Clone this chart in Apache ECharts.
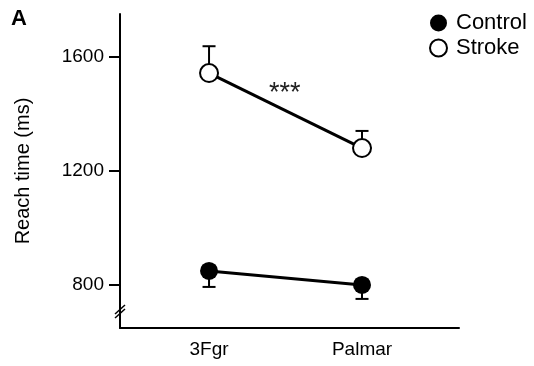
<!DOCTYPE html>
<html>
<head>
<meta charset="utf-8">
<script src="https://cdn.jsdelivr.net/npm/echarts@6/dist/echarts.min.js"></script>
<style>
  html, body { margin: 0; padding: 0; background: #fff; }
  #chart { width: 534px; height: 366px; }
</style>
</head>
<body>
<div id="chart"></div>
<script>
// 数据
var categories = ['3Fgr', 'Palmar'];
var controlMean = [849, 800];
var controlErrLow = [793, 751];   // 误差棒只画下方
var strokeMean = [1543, 1280];
var strokeErrHigh = [1637, 1340]; // 误差棒只画上方
var yTicks = [800, 1200, 1600];

var chart = echarts.init(document.getElementById('chart'));

function toPairs(arr) {
  return arr.map(function (v, i) { return [i + 1, v]; });
}
function toErr(mean, end) {
  return mean.map(function (v, i) { return [i + 1, v, end[i]]; });
}

function renderErr(params, api) {
  var p0 = api.coord([api.value(0), api.value(1)]);
  var p1 = api.coord([api.value(0), api.value(2)]);
  var half = 6.5;
  var st = { stroke: '#000', lineWidth: 2 };
  return {
    type: 'group',
    children: [
      { type: 'line', shape: { x1: p0[0], y1: p0[1], x2: p1[0], y2: p1[1] }, style: st },
      { type: 'line', shape: { x1: p1[0] - half, y1: p1[1], x2: p1[0] + half, y2: p1[1] }, style: st }
    ]
  };
}

var font = 'Liberation Sans, Arial, sans-serif';

chart.setOption({
  animation: false,
  textStyle: { fontFamily: font },
  grid: { left: 120, right: 75, top: 14, bottom: 38 },
  legend: {
    orient: 'vertical',
    left: 424,
    top: 7,
    itemWidth: 17,
    itemHeight: 17,
    itemGap: 3,
    textStyle: { color: '#000', fontSize: 22, fontFamily: font, padding: [0, 0, 0, 4] },
    data: [
      { name: 'Control', icon: 'circle', itemStyle: { color: '#000', borderColor: '#000', borderWidth: 0 } },
      { name: 'Stroke', icon: 'circle', itemStyle: { color: '#fff', borderColor: '#000', borderWidth: 2 } }
    ]
  },
  xAxis: {
    type: 'value',
    min: 0.418,
    max: 2.634,
    splitLine: { show: false },
    axisTick: { show: false },
    axisLine: { lineStyle: { color: '#000', width: 2 } },
    axisLabel: {
      customValues: [1, 2],
      color: '#000',
      fontSize: 19,
      margin: 12,
      formatter: function (v) { return categories[Math.round(v) - 1]; }
    }
  },
  yAxis: {
    type: 'value',
    min: 649,
    max: 1750,
    name: 'Reach time (ms)',
    nameLocation: 'middle',
    nameGap: 87,
    nameTextStyle: { color: '#000', fontSize: 20, fontFamily: font },
    splitLine: { show: false },
    axisLine: { show: true, lineStyle: { color: '#000', width: 2 } },
    axisTick: { show: true, customValues: yTicks, length: 11, lineStyle: { color: '#000', width: 2 } },
    axisLabel: {
      customValues: yTicks, color: '#000', fontSize: 19, margin: 16,
      formatter: function (v) { return String(v); }
    }
  },
  graphic: [
    { type: 'text', left: 11, top: 8, style: { text: 'A', fontSize: 22, fontWeight: 'bold', fill: '#000', fontFamily: font } },
    { type: 'text', left: 269, top: 80, style: { text: '***', fontSize: 27, fill: '#222', fontFamily: font } },
    // 断轴标记
    { type: 'line', shape: { x1: 115, y1: 314, x2: 125, y2: 305 }, style: { stroke: '#000', lineWidth: 1.5 } },
    { type: 'line', shape: { x1: 115, y1: 318, x2: 125, y2: 309 }, style: { stroke: '#000', lineWidth: 1.5 } }
  ],
  series: [
    {
      type: 'custom',
      renderItem: renderErr,
      data: toErr(strokeMean, strokeErrHigh),
      z: 1,
      silent: true
    },
    {
      type: 'custom',
      renderItem: renderErr,
      data: toErr(controlMean, controlErrLow),
      z: 1,
      silent: true
    },
    {
      name: 'Control',
      type: 'line',
      data: toPairs(controlMean),
      symbol: 'circle',
      symbolSize: 18,
      lineStyle: { color: '#000', width: 3 },
      itemStyle: { color: '#000' },
      z: 3
    },
    {
      name: 'Stroke',
      type: 'line',
      data: toPairs(strokeMean),
      symbol: 'circle',
      symbolSize: 18,
      lineStyle: { color: '#000', width: 3 },
      itemStyle: { color: '#fff', borderColor: '#000', borderWidth: 2 },
      z: 3
    }
  ]
});
</script>
</body>
</html>
